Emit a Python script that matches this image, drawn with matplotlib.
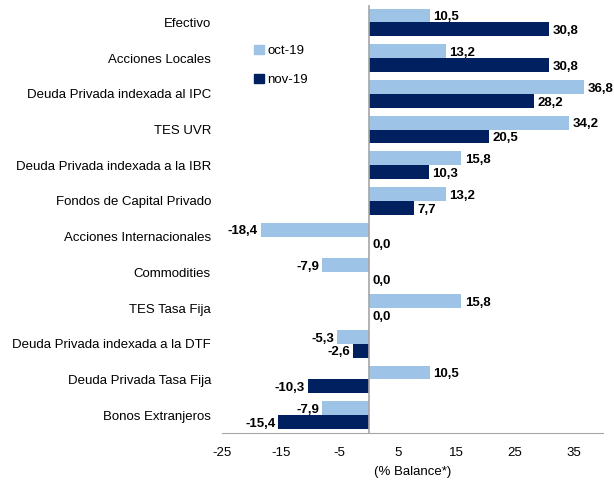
import matplotlib
matplotlib.use("Agg")
from matplotlib import pyplot as plt
from matplotlib.patches import Patch
import numpy as np

plt.rcParams['font.family'] = ['Liberation Sans', 'DejaVu Sans']

categories = [
    "Efectivo",
    "Acciones Locales",
    "Deuda Privada indexada al IPC",
    "TES UVR",
    "Deuda Privada indexada a la IBR",
    "Fondos de Capital Privado",
    "Acciones Internacionales",
    "Commodities",
    "TES Tasa Fija",
    "Deuda Privada indexada a la DTF",
    "Deuda Privada Tasa Fija",
    "Bonos Extranjeros",
]
oct_19 = [10.5, 13.2, 36.8, 34.2, 15.8, 13.2, -18.4, -7.9, 15.8, -5.3, 10.5, -7.9]
nov_19 = [30.8, 30.8, 28.2, 20.5, 10.3, 7.7, 0.0, 0.0, 0.0, -2.6, -10.3, -15.4]
series_labels = ["oct-19", "nov-19"]
colors = ["#9DC3E6", "#002060"]
xticks = [-25, -15, -5, 5, 15, 25, 35]

fig = plt.figure(figsize=(6.14, 4.84), dpi=100)
ax = fig.add_axes([0.3616, 0.1054, 0.6204, 0.885])

y = np.arange(len(categories))
h = 0.39
for vals, off, col in [(oct_19, -h / 2, colors[0]), (nov_19, h / 2, colors[1])]:
    ax.barh(y + off, vals, height=h, color=col, zorder=2)
    for yi, v in zip(y, vals):
        txt = f"{v:.1f}".replace(".", ",")
        # labels a little below the bar centre, like the spreadsheet export
        if v >= 0:
            ax.text(v + 0.6, yi + off + 0.05, txt, ha="left", va="center",
                    fontsize=9.5, fontweight="bold")
        else:
            ax.text(v - 0.5, yi + off + 0.05, txt, ha="right", va="center",
                    fontsize=9.5, fontweight="bold")

ax.axvline(0, color="#A6A6A6", lw=1.2, zorder=3)
ax.set_xlim(-25, 40)
ax.set_ylim(len(categories) - 0.5, -0.5)
ax.set_xticks(xticks)
ax.set_xticklabels([str(t) for t in xticks], fontsize=9.5)
ax.set_yticks(y)
ax.set_yticklabels(categories, fontsize=9.5)
ax.tick_params(axis="y", length=0, pad=8)
ax.tick_params(axis="x", length=0, pad=10)
for s in ["top", "right", "left"]:
    ax.spines[s].set_visible(False)
ax.spines["bottom"].set_color("#A6A6A6")
ax.set_xlabel("(% Balance*)", fontsize=9.5, labelpad=5)

handles = [Patch(color=c) for c in colors]
fig.legend(handles, series_labels, loc="upper left", bbox_to_anchor=(0.395, 0.932),
           frameon=False, fontsize=9.5, handlelength=0.7, handleheight=0.7,
           handletextpad=0.3, labelspacing=1.25)

fig.savefig("out.png", dpi=100)
